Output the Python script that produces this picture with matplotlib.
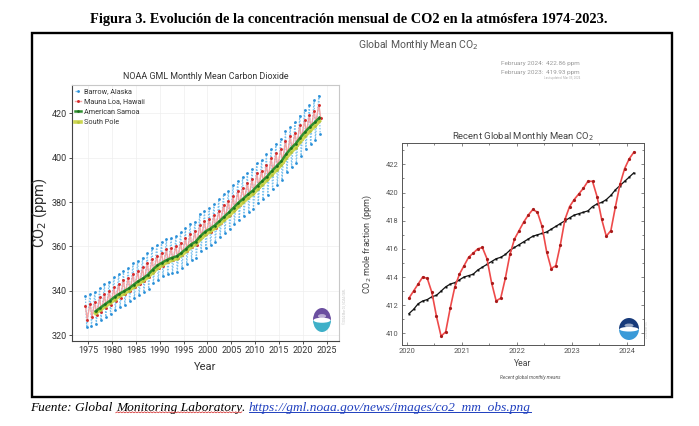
import numpy as np
import matplotlib
matplotlib.use("Agg")
import matplotlib.pyplot as plt
import matplotlib.font_manager as fm
from matplotlib.patches import Rectangle, Wedge, Ellipse
from matplotlib.lines import Line2D
from matplotlib.ticker import MultipleLocator

# ---------------- data ----------------
fig_title = "Figura 3. Evolución de la concentración mensual de CO2 en la atmósfera 1974-2023."
footer_parts = ["Fuente: Global ", "Monitoring Laboratory", ". "]
footer_link = "https://gml.noaa.gov/news/images/co2_mm_obs.png"

header_title = "Global Monthly Mean CO$_2$"
header_rows = [("February 2024:", "422.86 ppm"), ("February 2023:", "419.93 ppm")]
header_note = "Last updated: Mar 05, 2024"

left_title = "NOAA GML Monthly Mean Carbon Dioxide"
station_names = ["Barrow, Alaska", "Mauna Loa, Hawaii", "American Samoa", "South Pole"]

years = np.arange(1974, 2024)
barrow_peak = [337.8, 338.4, 339.6, 341.0, 342.9, 344.1, 346.3, 347.4, 348.9, 350.2,
               352.3, 353.4, 354.8, 356.9, 359.4, 360.7, 361.9, 363.4, 363.8, 364.5,
               366.5, 368.4, 370.3, 371.0, 374.6, 376.0, 377.1, 378.9, 381.2, 383.5,
               384.9, 387.6, 389.4, 391.2, 393.3, 394.7, 397.8, 399.1, 401.6, 404.0,
               406.2, 408.4, 411.9, 413.8, 416.3, 419.0, 421.5, 423.6, 425.9, 428.0]
barrow_trough = [323.5, 324.2, 325.0, 326.6, 328.3, 329.4, 331.3, 332.5, 333.6, 335.3,
                 336.6, 337.9, 339.4, 340.9, 343.6, 344.8, 346.6, 347.5, 348.1, 348.6,
                 350.4, 352.1, 354.0, 354.6, 357.9, 359.3, 360.6, 362.0, 364.2, 366.1,
                 367.7, 370.1, 371.9, 373.9, 375.4, 377.0, 379.6, 381.3, 383.3, 385.7,
                 387.8, 389.9, 393.4, 395.6, 397.6, 400.9, 403.9, 406.0, 408.2, 410.6]
mlo_peak = [333.2, 334.2, 335.1, 337.1, 338.3, 340.0, 341.5, 343.0, 345.0, 345.9,
            347.7, 348.9, 350.5, 352.7, 354.2, 355.7, 357.2, 358.6, 359.1, 360.2,
            361.6, 363.8, 365.4, 366.8, 369.6, 371.3, 372.3, 374.1, 376.0, 378.8,
            380.5, 382.5, 384.9, 386.4, 388.5, 390.2, 393.0, 394.2, 396.8, 399.8,
            401.9, 404.0, 407.7, 409.6, 411.2, 414.6, 417.1, 419.1, 421.0, 424.0]
mlo_trough = [327.0, 328.0, 328.9, 330.4, 332.3, 333.6, 335.5, 336.8, 338.3, 340.0,
              341.5, 342.8, 344.2, 346.2, 348.7, 350.1, 351.3, 352.8, 353.7, 354.6,
              356.2, 357.9, 359.6, 360.5, 364.4, 365.7, 366.7, 368.5, 370.5, 372.6,
              374.3, 376.7, 378.8, 380.9, 382.9, 384.4, 386.9, 388.6, 391.0, 393.4,
              395.7, 398.0, 401.0, 403.4, 405.6, 408.5, 411.3, 413.3, 415.9, 418.0]

years_south = np.arange(1976, 2024)
samoa = [330.7, 332.3, 333.9, 335.4, 337.2, 338.6, 339.8, 341.0, 342.7, 344.3,
         345.6, 347.2, 349.5, 351.4, 352.7, 353.9, 354.8, 355.5, 357.0, 358.9,
         360.8, 362.1, 364.6, 366.6, 367.9, 369.4, 371.3, 373.4, 375.3, 377.5,
         379.7, 381.5, 383.4, 385.1, 387.4, 389.5, 391.5, 394.0, 396.2, 398.4,
         401.6, 404.2, 406.3, 409.1, 411.7, 413.9, 415.9, 418.1]
south_pole = [329.8, 331.3, 332.9, 334.3, 336.0, 337.5, 338.7, 340.0, 341.6, 343.1,
              344.5, 346.1, 348.2, 350.1, 351.5, 352.8, 353.7, 354.5, 355.9, 357.7,
              359.5, 361.0, 363.2, 365.2, 366.7, 368.1, 369.9, 371.9, 373.8, 375.9,
              378.0, 379.9, 381.9, 383.6, 385.8, 387.9, 390.0, 392.4, 394.5, 396.8,
              399.8, 402.4, 404.6, 407.3, 409.8, 412.0, 414.2, 416.5]

right_title = "Recent Global Monthly Mean CO$_2$"
recent_start_year = 2020
recent_monthly = [412.5, 413.0, 413.5, 414.0, 413.9, 412.9, 411.2, 409.8, 410.1, 411.8, 413.3, 414.2,
                  414.8, 415.4, 415.7, 416.0, 416.1, 415.3, 413.6, 412.3, 412.5, 413.9, 415.6, 416.7,
                  417.3, 417.9, 418.4, 418.8, 418.6, 417.6, 415.8, 414.6, 414.8, 416.3, 418.1, 419.0,
                  419.5, 419.9, 420.3, 420.8, 420.8, 419.7, 418.1, 416.9, 417.3, 419.0, 420.6, 421.7,
                  422.4, 422.86]
recent_trend = [411.4, 411.7, 412.1, 412.3, 412.4, 412.6, 412.7, 413.0, 413.3, 413.5, 413.6, 413.8,
                414.0, 414.1, 414.2, 414.5, 414.7, 414.9, 415.1, 415.3, 415.4, 415.6, 415.9, 416.1,
                416.3, 416.5, 416.7, 416.9, 417.0, 417.1, 417.2, 417.4, 417.6, 417.8, 418.0, 418.2,
                418.4, 418.5, 418.6, 418.7, 419.0, 419.2, 419.3, 419.5, 419.8, 420.2, 420.5, 420.8,
                421.1, 421.4]
right_note = "Recent global monthly means"

# ---------------- fonts ----------------
avail = {f.name for f in fm.fontManager.ttflist}
def pick(*names):
    for n in names:
        if n in avail:
            return n
    return "DejaVu Sans"
NARROW = pick("Liberation Sans Narrow", "Roboto", "DejaVu Sans")
ROBOTO = pick("Roboto", "DejaVu Sans")
SERIF = pick("Liberation Serif", "DejaVu Serif")

W, H = 699, 426
fig = plt.figure(figsize=(W / 100, H / 100), dpi=100)
fig.patch.set_facecolor("white")

def fx(px):
    return px / W
def fy(py):
    return 1 - py / H

ov = fig.add_axes([0, 0, 1, 1])
ov.set_xlim(0, 1); ov.set_ylim(0, 1); ov.axis("off")

# frame
ov.add_patch(Rectangle((fx(32), fy(397)), fx(672) - fx(32), fy(33) - fy(397),
                       fill=False, edgecolor="black", lw=1.7, transform=ov.transAxes))

ov.text(fx(349), fy(20), fig_title, ha="center", va="center", fontsize=10.4,
        fontweight="bold", family=SERIF, color="black")

# header
ov.text(fx(358), fy(45), header_title, ha="left", va="center", fontsize=7.5,
        family=ROBOTO, color="#555555")
for i, (lab, val) in enumerate(header_rows):
    yy = fy(63 + i * 9.7)
    ov.text(fx(501), yy, lab, ha="left", va="center", fontsize=4.6, family=ROBOTO, color="#9a9a9a")
    ov.text(fx(580), yy, val, ha="right", va="center", fontsize=4.6, family=ROBOTO, color="#9a9a9a")
ov.text(fx(580), fy(78.5), header_note, ha="right", va="center", fontsize=2.2,
        family=ROBOTO, color="#b0b0b0")

# ---------------- left chart ----------------
axL = fig.add_axes([fx(71.7), fy(341), fx(339) - fx(71.7), fy(85) - fy(341)])
bx = np.column_stack([years + 0.37, years + 0.65]).ravel()
by = np.column_stack([barrow_peak, barrow_trough]).ravel()
mx = np.column_stack([years + 0.37, years + 0.75]).ravel()
my = np.column_stack([mlo_peak, mlo_trough]).ravel()
axL.plot(bx, by, ls=(0, (1.2, 1.2)), color="#7cc2ee", lw=0.9, marker="o", ms=2.0,
         mfc="#2a90d8", mec="none", label=station_names[0], zorder=2)
axL.plot(mx, my, ls="-", color="#f4a4a4", lw=1.0, marker="o", ms=2.1,
         mfc="#d42a2a", mec="none", label=station_names[1], zorder=3)
axL.plot(years_south + 0.5, south_pole, ls="-", color="#ccd650", lw=2.6, marker="o", ms=2.0,
         mfc="#b8c43a", mec="none", label=station_names[3], zorder=4)
axL.plot(years_south + 0.5, samoa, ls="-", color="#2f8f2f", lw=1.8, marker="o", ms=1.9,
         mfc="#1c6e1c", mec="none", label=station_names[2], zorder=5)
axL.set_xlim(1971.5, 2027.6)
axL.set_ylim(317.3, 432.8)
axL.xaxis.set_major_locator(MultipleLocator(5))
axL.yaxis.set_major_locator(MultipleLocator(20))
axL.grid(True, color="#eeeeee", lw=0.5)
axL.set_axisbelow(True)
for s in ["top", "right"]:
    axL.spines[s].set_color("#c8c8c8")
for s in ["left", "bottom"]:
    axL.spines[s].set_color("#444444")
for s in axL.spines.values():
    s.set_linewidth(0.8)
axL.tick_params(direction="out", length=2, width=0.6, labelsize=6.5, colors="#333333", pad=1.5)
for lab in axL.get_xticklabels() + axL.get_yticklabels():
    lab.set_family(NARROW)
axL.set_xlabel("Year", fontsize=8, family=NARROW, color="#333333")
axL.set_ylabel("CO$_2$ (ppm)", fontsize=10.5, family=NARROW, color="#333333")
axL.yaxis.set_label_coords(-0.085, 0.5)
axL.xaxis.set_label_coords(0.5, -0.083)
axL.text(0.5, 1.035, left_title, transform=axL.transAxes, ha="center", va="center",
         fontsize=6.4, family=NARROW, color="#333333")
handles, labels = axL.get_legend_handles_labels()
order = [labels.index(n) for n in station_names]
leg = axL.legend([handles[i] for i in order], [labels[i] for i in order],
                 loc="upper left", frameon=False, handlelength=0.9, handletextpad=0.35,
                 labelspacing=0.45, borderaxespad=0.25, borderpad=0.2,
                 prop={"family": NARROW, "size": 5.2})
for t in leg.get_texts():
    t.set_color("#333333")

# ---------------- right chart ----------------
axR = fig.add_axes([fx(401.7), fy(345), fx(644) - fx(401.7), fy(143.3) - fy(345)])
rx = recent_start_year + (np.arange(len(recent_monthly)) + 0.5) / 12
axR.plot(rx, recent_trend, color="#111111", lw=0.9, marker="s", ms=1.6, mec="none", zorder=3)
axR.plot(rx, recent_monthly, color="#ee4a4a", lw=1.2, marker="o", ms=2.3,
         mfc="#a81a1a", mec="none", zorder=4)
axR.set_xlim(2019.91, 2024.31)
axR.set_ylim(409.17, 423.5)
axR.xaxis.set_major_locator(MultipleLocator(1))
axR.xaxis.set_minor_locator(MultipleLocator(0.5))
axR.yaxis.set_major_locator(MultipleLocator(2))
axR.yaxis.set_minor_locator(MultipleLocator(1))
for s in axR.spines.values():
    s.set_color("#555555"); s.set_linewidth(0.7)
axR.tick_params(which="both", direction="in", top=True, right=True, width=0.5,
                labelsize=5.4, colors="#555555", pad=2)
axR.tick_params(which="major", length=2.5)
axR.tick_params(which="minor", length=1.3)
for lab in axR.get_xticklabels() + axR.get_yticklabels():
    lab.set_family(ROBOTO)
axR.set_xlabel("Year", fontsize=6.2, family=ROBOTO, color="#444444")
axR.set_ylabel("CO$_2$ mole fraction (ppm)", fontsize=6.5, family=ROBOTO, color="#444444")
axR.yaxis.set_label_coords(-0.115, 0.5)
axR.xaxis.set_label_coords(0.5, -0.069)
axR.text(0.5, 1.036, right_title, transform=axR.transAxes, ha="center", va="center",
         fontsize=6.8, family=ROBOTO, color="#444444")
ov.text(fx(530.7), fy(377.7), right_note, ha="center", va="center", fontsize=3.4,
        style="italic", family=ROBOTO, color="#555555")

# tiny vertical credits
ov.text(fx(345), fy(306), "©2024 Mar 05, NOAA/GML", rotation=90, ha="center", va="center",
        fontsize=2.2, family=ROBOTO, color="#c4c4c4")
ov.text(fx(646.5), fy(330), "2024 Mar 05", rotation=90, ha="center", va="center",
        fontsize=2.2, family=ROBOTO, color="#c4c4c4")

# NOAA logos
def logo(cx, cy, w, h, top, bottom):
    a = fig.add_axes([fx(cx - w / 2), fy(cy + h / 2), w / W, h / H])
    a.set_xlim(-1, 1); a.set_ylim(-1, 1); a.axis("off")
    a.add_patch(Wedge((0, 0), 1, 0, 180, fc=top, ec="none"))
    a.add_patch(Wedge((0, 0), 1, 180, 360, fc=bottom, ec="none"))
    a.add_patch(Ellipse((0, -0.02), 1.9, 0.42, fc="white", ec="none"))
    a.add_patch(Ellipse((0, 0.32), 0.9, 0.35, fc="white", ec="none", alpha=0.55))
logo(322, 320, 18, 24, "#6b4fa0", "#3fb0c8")
logo(629, 329, 20, 22, "#173a7a", "#3a9ad8")

# footer with link
fs = 9.6
t = ov.text(fx(30), fy(408), footer_parts[0], ha="left", va="center", fontsize=fs,
            style="italic", family=SERIF, color="black")
pieces = [t]
for part in footer_parts[1:]:
    t = ov.annotate(part, xy=(1, 0), xycoords=t, va="bottom", ha="left", fontsize=fs,
                    style="italic", family=SERIF, color="black")
    pieces.append(t)
link = ov.annotate(footer_link, xy=(1, 0), xycoords=t, va="bottom", ha="left", fontsize=fs,
                   style="italic", family=SERIF, color="#1f3fbf")

fig.canvas.draw()
r = fig.canvas.get_renderer()
inv = fig.transFigure.inverted()
bb = link.get_window_extent(r)
(x0, y0), (x1, _) = inv.transform([(bb.x0, bb.y0 + 2.2), (bb.x1, bb.y0 + 2.2)])
fig.add_artist(Line2D([x0, x1], [y0, y0], transform=fig.transFigure, color="#1f3fbf", lw=0.7))
bb2 = pieces[1].get_window_extent(r)
n = int((bb2.x1 - bb2.x0) / 1.5)
zx = np.linspace(bb2.x0, bb2.x1, n)
zy = bb2.y0 + 1.2 + np.where(np.arange(n) % 2 == 0, 0.0, 1.0)
pts = inv.transform(np.column_stack([zx, zy]))
fig.add_artist(Line2D(pts[:, 0], pts[:, 1], transform=fig.transFigure, color="#d02020", lw=0.5))

fig.savefig("out.png", dpi=100, facecolor="white")
